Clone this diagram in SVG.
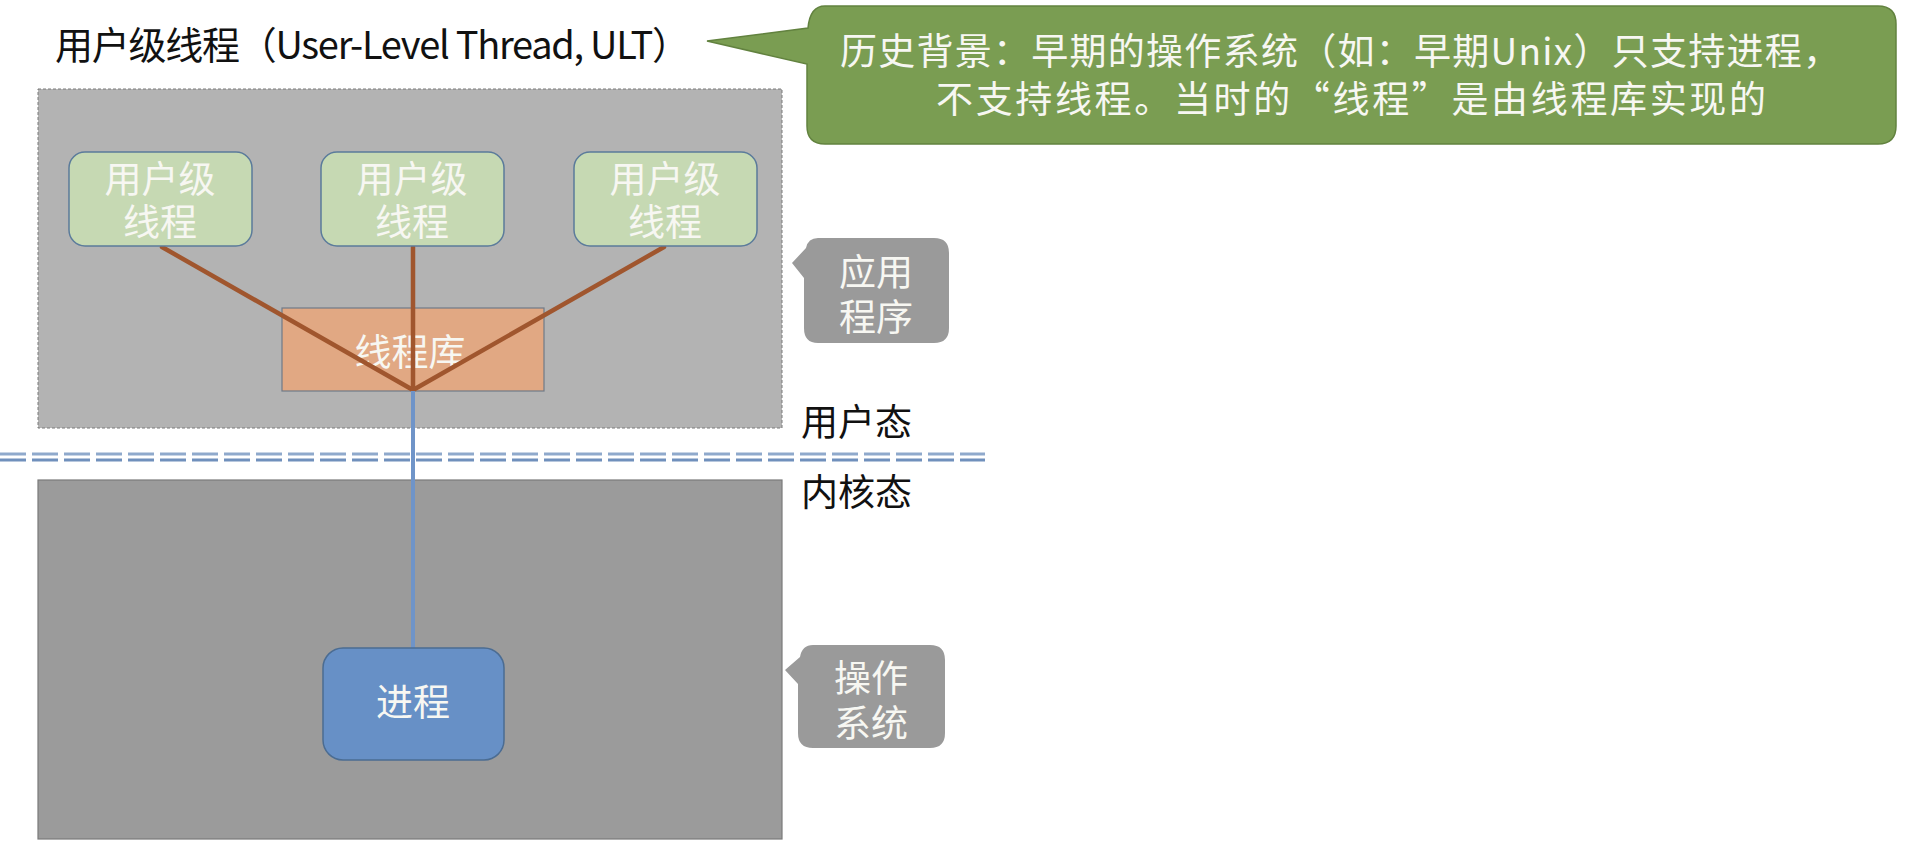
<svg xmlns="http://www.w3.org/2000/svg" width="1914" height="864" viewBox="0 0 1914 864">
<style>
  text { font-family: "Noto Sans CJK SC", "Noto Sans", sans-serif; }
  .wt { fill: #f7f7f2; font-size: 37px; text-anchor: middle; }
  .blk { fill: #111111; font-size: 37px; }
  .ult { fill: #c6d9b3; stroke: #5b7b9b; stroke-width: 1.5; }
  .brown { stroke: #a0562e; stroke-width: 4.5; fill: none; stroke-linecap: round; }
  .gcall { fill: #9a9a9a; }
</style>
<rect x="0" y="0" width="1914" height="864" fill="#ffffff"/>

<g id="title">
  <text x="55" y="59" font-size="38" fill="#111111" textLength="635" lengthAdjust="spacing">用户级线程（User-Level Thread, ULT）</text>
</g>

<g id="history-callout">
  <path d="M 825,6 H 1878 Q 1896,6 1896,24 V 126 Q 1896,144 1878,144 H 825 Q 807,144 807,126 V 64 L 707,41 L 808,28 Q 810,6 825,6 Z" fill="#7a9d52" stroke="#62823f" stroke-width="1.5"/>
  <text x="1340" y="65" class="wt" font-size="35" textLength="1000" lengthAdjust="spacing">历史背景：早期的操作系统（如：早期Unix）只支持进程，</text>
  <text x="1351" y="113" class="wt" font-size="35" textLength="830" lengthAdjust="spacing">不支持线程。当时的“线程”是由线程库实现的</text>
</g>

<g id="user-space">
  <rect x="38" y="89" width="744" height="339" fill="#b3b3b3" stroke="#7a7a7a" stroke-width="1" stroke-dasharray="3 2"/>
</g>

<g id="kernel-space">
  <rect x="38" y="480" width="744" height="359" fill="#9b9b9b" stroke="#7a7a7a" stroke-width="1.2"/>
</g>

<g id="mode-boundary">
  <line x1="0" y1="454" x2="985" y2="454" stroke="#8fa9cc" stroke-width="3" stroke-dasharray="26 6"/>
  <line x1="0" y1="460" x2="985" y2="460" stroke="#7090bc" stroke-width="3" stroke-dasharray="26 6"/>
</g>

<g id="thread-library">
  <rect x="282" y="308" width="262" height="83" fill="#e1a883" stroke="#6f7a88" stroke-width="1.2"/>
  <text x="410" y="366" class="wt" font-size="38">线程库</text>
</g>

<g id="connectors">
  <line class="brown" x1="162" y1="247" x2="413" y2="390"/>
  <line class="brown" x1="413" y1="247" x2="413" y2="390"/>
  <line class="brown" x1="664" y1="247" x2="413" y2="390"/>
  <line x1="413" y1="391" x2="413" y2="648" stroke="#6f94c8" stroke-width="4"/>
</g>

<g id="ult-1">
  <rect class="ult" x="69" y="152" width="183" height="94" rx="16"/>
  <text x="160" y="193" class="wt">用户级</text>
  <text x="160" y="236" class="wt">线程</text>
</g>
<g id="ult-2">
  <rect class="ult" x="321" y="152" width="183" height="94" rx="16"/>
  <text x="412" y="193" class="wt">用户级</text>
  <text x="412" y="236" class="wt">线程</text>
</g>
<g id="ult-3">
  <rect class="ult" x="574" y="152" width="183" height="94" rx="16"/>
  <text x="665" y="193" class="wt">用户级</text>
  <text x="665" y="236" class="wt">线程</text>
</g>

<g id="process">
  <rect x="323" y="648" width="181" height="112" rx="20" fill="#6790c6" stroke="#4b6c92" stroke-width="1.5"/>
  <text x="413" y="716" class="wt" font-size="38">进程</text>
</g>

<g id="app-callout">
  <path d="M 818,238 H 934 Q 949,238 949,253 V 328 Q 949,343 934,343 H 818 Q 804,343 804,328 V 278 L 792,263 L 806,248 Q 808,238 818,238 Z" class="gcall"/>
  <text x="876" y="286" class="wt" font-size="38">应用</text>
  <text x="876" y="331" class="wt" font-size="38">程序</text>
</g>

<g id="os-callout">
  <path d="M 813,645 H 930 Q 945,645 945,660 V 733 Q 945,748 930,748 H 813 Q 798,748 798,733 V 684 L 785,670 L 800,657 Q 802,645 813,645 Z" class="gcall"/>
  <text x="871" y="692" class="wt" font-size="38">操作</text>
  <text x="871" y="737" class="wt" font-size="38">系统</text>
</g>

<g id="mode-labels">
  <text x="801" y="436" class="blk" font-size="38">用户态</text>
  <text x="801" y="506" class="blk" font-size="38">内核态</text>
</g>
</svg>
